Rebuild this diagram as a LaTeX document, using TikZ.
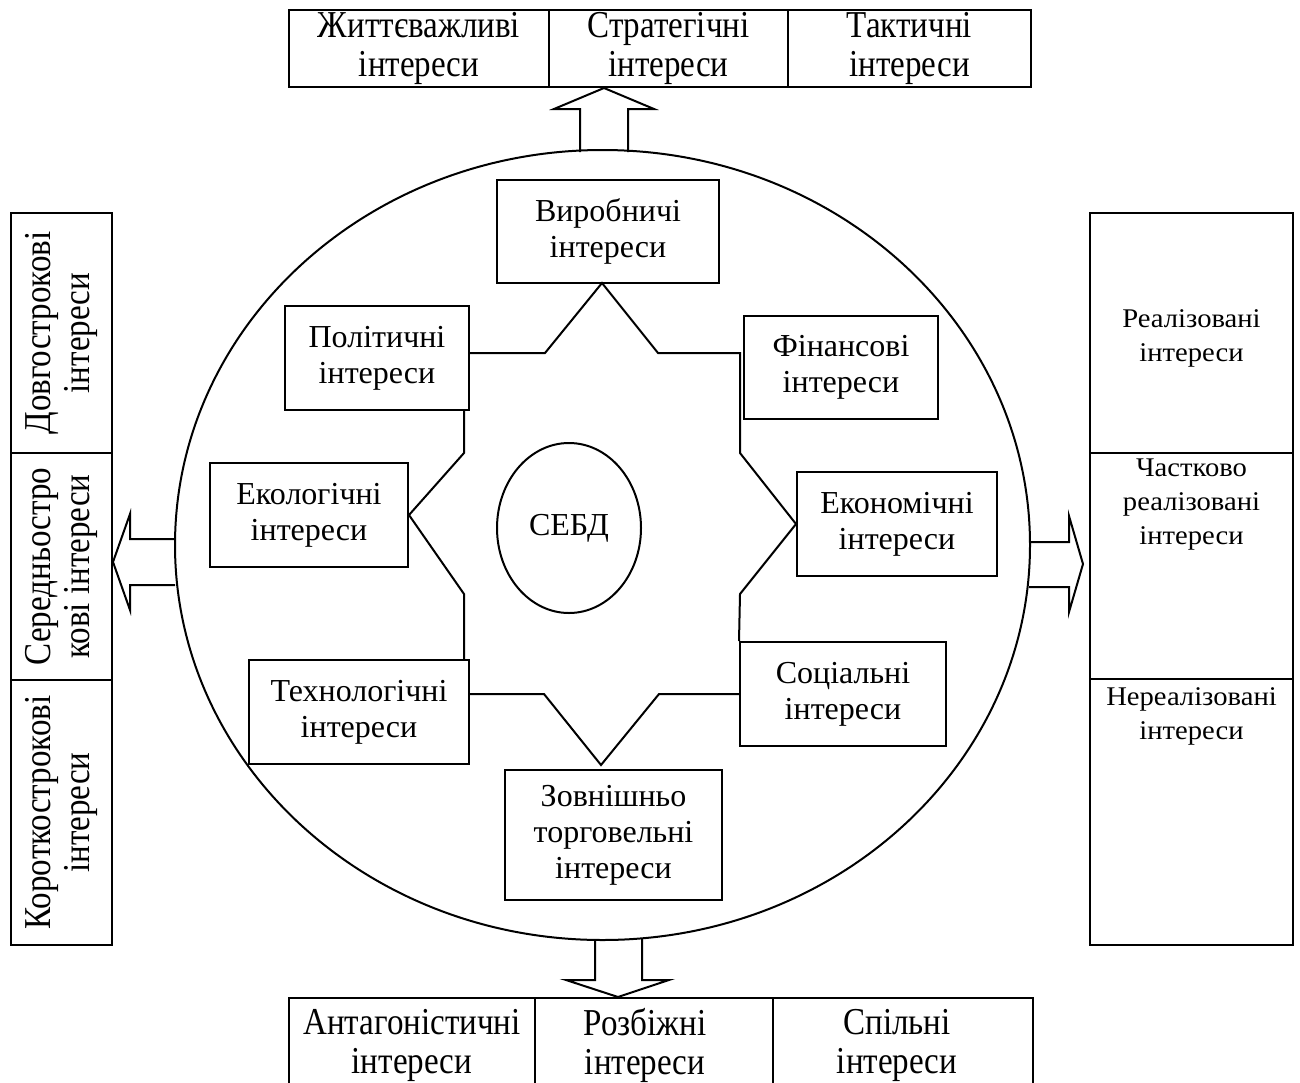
\documentclass[tikz,border=0pt]{standalone}
\usepackage{fontspec}
\setmainfont{Liberation Serif}
\newfontfamily\narrowserif[FakeStretch=0.87]{Liberation Serif}
\newfontfamily\wideserif[FakeStretch=1.06]{Liberation Serif}
\usetikzlibrary{shapes.geometric,fit}

\tikzset{
  frame/.style={draw, inner sep=0pt},
  intext/.style={align=center, inner sep=0pt,
    font=\fontsize{16}{18}\selectfont},
  cell/.style={draw, inner sep=0pt, line width=1.2pt},
  celltext/.style={align=center, inner sep=0pt,
    font=\narrowserif\fontsize{19}{19.5}\selectfont},
  widetext/.style={align=center, inner sep=0pt,
    font=\wideserif\fontsize{13.5}{17}\selectfont},
  blockarrow/.style={draw, line width=1pt, line join=miter},
}

\begin{document}
\begin{tikzpicture}[x=0.5pt, y=-0.5pt, line width=1pt]
\useasboundingbox (0,0) rectangle (1300,1082);

% outer oval
\node[draw, ellipse, inner sep=0pt, minimum width=427.5pt, minimum height=395pt]
  (circ) at (602.5,545) {};

% top row
\node[cell, fit={(289,10) (549,87)}] (t1) {};
\node[cell, fit={(549,10) (788,87)}] (t2) {};
\node[cell, fit={(788,10) (1031,87)}] (t3) {};
\node[celltext] (t1t) at (t1.center) {Життєважливі\\інтереси};
\node[celltext] (t2t) at (t2.center) {Стратегічні\\інтереси};
\node[celltext] (t3t) at (t3.center) {Тактичні\\інтереси};

% bottom row, running past the lower edge
\node[cell, fit={(289,998) (535,1100)}] (b1) {};
\node[cell, fit={(535,998) (773,1100)}] (b2) {};
\node[cell, fit={(773,998) (1033,1100)}] (b3) {};
\node[celltext] (b1t) at (412,1045) {Антагоністичні\\інтереси};
\node[celltext] (b2t) at (645,1045) {Розбіжні\\інтереси};
\node[celltext] (b3t) at (897,1045) {Спільні\\інтереси};

% left column
\node[cell, fit={(11,213) (112,453)}] (l1) {};
\node[cell, fit={(11,453) (112,680)}] (l2) {};
\node[cell, fit={(11,680) (112,945)}] (l3) {};
\node[celltext, rotate=90] (l1t) at (l1.center) {Довгострокові\\інтереси};
\node[celltext, rotate=90] (l2t) at (l2.center) {Середньостро\\кові інтереси};
\node[celltext, rotate=90] (l3t) at (l3.center) {Короткострокові\\інтереси};

% right column
\node[cell, fit={(1090,213) (1293,453)}] (r1) {};
\node[cell, fit={(1090,453) (1293,679)}] (r2) {};
\node[cell, fit={(1090,679) (1293,945)}] (r3) {};
\node[widetext] (r1t) at (1191.5,338) {Реалізовані\\інтереси};
\node[widetext] (r2t) at (1191.5,505) {Частково\\реалізовані\\інтереси};
\node[widetext] (r3t) at (1191.5,716) {Нереалізовані\\інтереси};

% inner boxes
\node[frame, fit={(497,180) (719,283)}] (vyr) {};
\node[frame, fit={(285,306) (469,410)}] (pol) {};
\node[frame, fit={(744,316) (938,419)}] (fin) {};
\node[frame, fit={(210,463) (408,567)}] (ekl) {};
\node[frame, fit={(797,472) (997,576)}] (ekn) {};
\node[frame, fit={(249,660) (469,764)}] (teh) {};
\node[frame, fit={(740,642) (946,746)}] (soc) {};
\node[frame, fit={(505,770) (722,900)}] (zov) {};
\node[intext] (vyrt) at (vyr.center) {Виробничі\\інтереси};
\node[intext] (polt) at (pol.center) {Політичні\\інтереси};
\node[intext] (fint) at (fin.center) {Фінансові\\інтереси};
\node[intext] (eklt) at (ekl.center) {Екологічні\\інтереси};
\node[intext] (eknt) at (ekn.center) {Економічні\\інтереси};
\node[intext] (teht) at (teh.center) {Технологічні\\інтереси};
\node[intext] (soct) at (soc.center) {Соціальні\\інтереси};
\node[intext] (zovt) at (zov.center) {Зовнішньо\\торговельні\\інтереси};

% centre
\node[draw, ellipse, inner sep=0pt, minimum width=72pt, minimum height=85pt,
  font=\fontsize{16}{18}\selectfont] (sebd) at (569,528) {СЕБД};

% star outline joining the inner boxes
\coordinate (ztip) at (601,765);
\draw[line join=miter] (pol.east |- 0,353) -- (545,353) -- (602,283) -- (658,353)
  -- (740,353) -- (740,453) -- (ekn.west) -- (740,594) -- (soc.north west);
\draw[line join=miter] (pol.south -| 464,0) -- (464,453) -- (ekl.east)
  -- (464,594) -- (teh.north -| 464,0);
\draw[line join=miter] (teh.east |- 0,694) -- (544,694) -- (ztip)
  -- (659,694) -- (soc.west |- 0,694);

% block arrows leaving the oval
\draw[blockarrow] (580,152) -- (580,109) -- (554,109) -- (604,88)
  -- (654,109) -- (628,109) -- (628,152);
\draw[blockarrow] (595,939) -- (595,980) -- (566,980) -- (618,997)
  -- (669,980) -- (642,980) -- (642,938);
\draw[blockarrow] (175,539) -- (130,539) -- (130,514) -- (113,562)
  -- (130,610) -- (130,585) -- (175,585);
\draw[blockarrow] (1029,542) -- (1069,542) -- (1069,516) -- (1083,564)
  -- (1069,612) -- (1069,587) -- (1029,587);
\end{tikzpicture}
\end{document}
